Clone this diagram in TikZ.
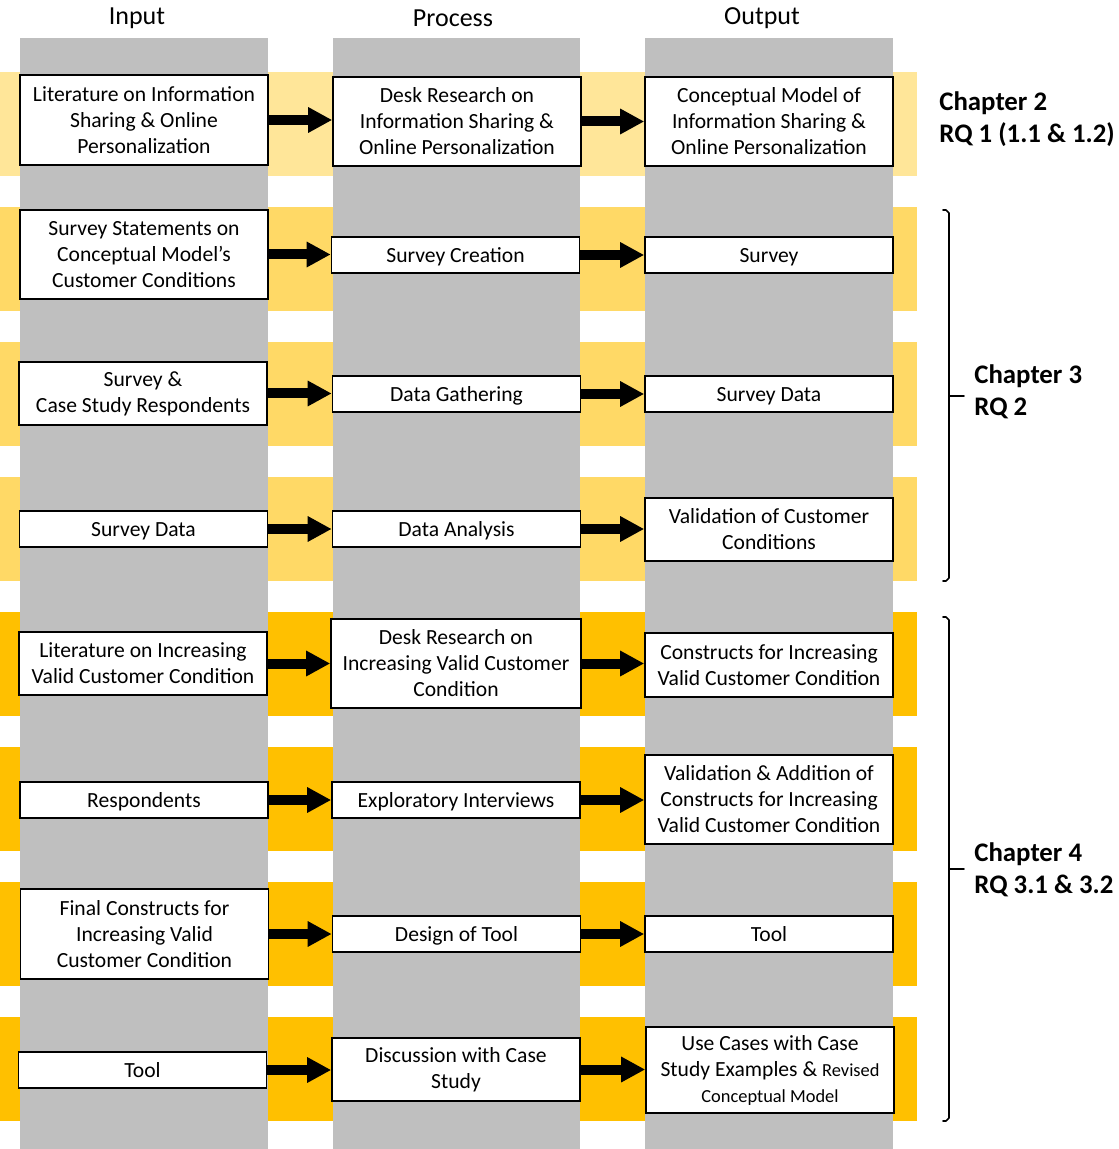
\documentclass[tikz,border=0pt]{standalone}
\usepackage{fontspec}
\setmainfont{Carlito}
\usetikzlibrary{arrows.meta}
\definecolor{bandA}{HTML}{FFE699}
\definecolor{bandB}{HTML}{FFD966}
\definecolor{bandC}{HTML}{FFC000}
\definecolor{lane}{HTML}{BFBFBF}
\tikzset{
  bx/.style={draw=black, line width=0.8pt, fill=white, align=center, inner sep=0pt,
    font=\fontsize{10.8}{13}\selectfont, minimum width=124pt},
  h1/.style={minimum height=18pt, text height=8.6pt, text depth=1.2pt},
  h2/.style={minimum height=31.5pt},
  h3/.style={minimum height=44.5pt},
  flow/.style={line width=5pt, -{Triangle[width=12pt,length=12pt]}},
  head/.style={font=\fontsize{13}{15}\selectfont},
  chap/.style={font=\bfseries\fontsize{13.4}{16}\selectfont, align=left, anchor=west, inner sep=0pt},
  brk/.style={line width=0.8pt, line cap=round, line join=round}
}
\begin{document}
\begin{tikzpicture}[x=0.5pt,y=-0.5pt]
\useasboundingbox (0,0) rectangle (1118,1149);

% horizontal bands, one per step
\fill[bandA] (0,72) rectangle (917,176);
\foreach \t in {207,342,477} \fill[bandB] (0,\t) rectangle (917,\t+104);
\foreach \t in {612,747,882,1017} \fill[bandC] (0,\t) rectangle (917,\t+104);

% vertical lanes
\foreach \l/\r in {20/268,333/580,645/893} \fill[lane] (\l,38) rectangle (\r,1149);

% lane headings
\node[head] (hin)  at (137,18) {Input};
\node[head] (hpro) at (453,18) {Process};
\node[head] (hout) at (762,18) {Output};

% row 1
\node[bx,h3, minimum height=45pt] (i1) at (144,120) {Literature on Information\\Sharing \& Online\\Personalization};
\node[bx,h3] (p1) at (457,121.5) {Desk Research on\\Information Sharing \&\\Online Personalization};
\node[bx,h3] (o1) at (769,121.5) {Conceptual Model of\\Information Sharing \&\\Online Personalization};
% row 2
\node[bx,h3] (i2) at (144,254.5) {Survey Statements on\\Conceptual Model’s\\Customer Conditions};
\node[bx,h1] (p2) at (455.5,255) {Survey Creation};
\node[bx,h1] (o2) at (769,255) {Survey};
% row 3
\node[bx,h2] (i3) at (143,393.5) {Survey \&\\Case Study Respondents};
\node[bx,h1] (p3) at (456.5,394) {Data Gathering};
\node[bx,h1] (o3) at (769,394) {Survey Data};
% row 4
\node[bx,h1] (i4) at (143.5,529) {Survey Data};
\node[bx,h1] (p4) at (456.5,529) {Data Analysis};
\node[bx,h2] (o4) at (769,529.5) {Validation of Customer\\Conditions};
% row 5
\node[bx,h2] (i5) at (143,663.5) {Literature on Increasing\\Valid Customer Condition};
\node[bx,h3, minimum width=125pt] (p5) at (456,663.5) {Desk Research on\\Increasing Valid Customer\\Condition};
\node[bx,h2, minimum height=32pt] (o5) at (769,665) {Constructs for Increasing\\Valid Customer Condition};
% row 6
\node[bx,h1] (i6) at (144,800) {Respondents};
\node[bx,h1] (p6) at (456,800) {Exploratory Interviews};
\node[bx,h3] (o6) at (769,799.5) {Validation \& Addition of\\Constructs for Increasing\\Valid Customer Condition};
% row 7
\node[bx,h3, minimum height=45pt] (i7) at (144.5,934) {Final Constructs for\\Increasing Valid\\Customer Condition};
\node[bx,h1] (p7) at (456.5,934) {Design of Tool};
\node[bx,h1] (o7) at (769,934) {Tool};
% row 8
\node[bx,h1] (i8) at (142.5,1070) {Tool};
\node[bx,h2] (p8) at (456,1069.5) {Discussion with Case\\Study};
\node[bx, minimum height=43pt] (o8) at (770,1070) {Use Cases with Case\\Study Examples \& {\fontsize{9.2}{13}\selectfont Revised}\\{\fontsize{9.2}{11}\selectfont Conceptual Model}};

% flow arrows
\foreach \n in {1,...,8} {
  \draw[flow] (i\n.east) -- (i\n.east -| p\n.west);
  \draw[flow] (p\n.east) -- (p\n.east -| o\n.west);
}

% chapter labels
\node[chap] (c2) at (939,119) {Chapter 2\\RQ 1 (1.1 \& 1.2)};
\node[chap] (c3) at (974,392) {Chapter 3\\RQ 2};
\node[chap] (c4) at (974,870) {Chapter 4\\RQ 3.1 \& 3.2};

% brackets grouping the rows of each chapter
\draw[brk] (943,210) -- (946,210) -- (949,213) -- (949,578) -- (946,581) -- (943,581);
\draw[brk] (949,396) -- (964,396);
\draw[brk] (943,617) -- (946,617) -- (949,620) -- (949,1118) -- (946,1121) -- (943,1121);
\draw[brk] (949,869) -- (964,869);
\end{tikzpicture}
\end{document}
